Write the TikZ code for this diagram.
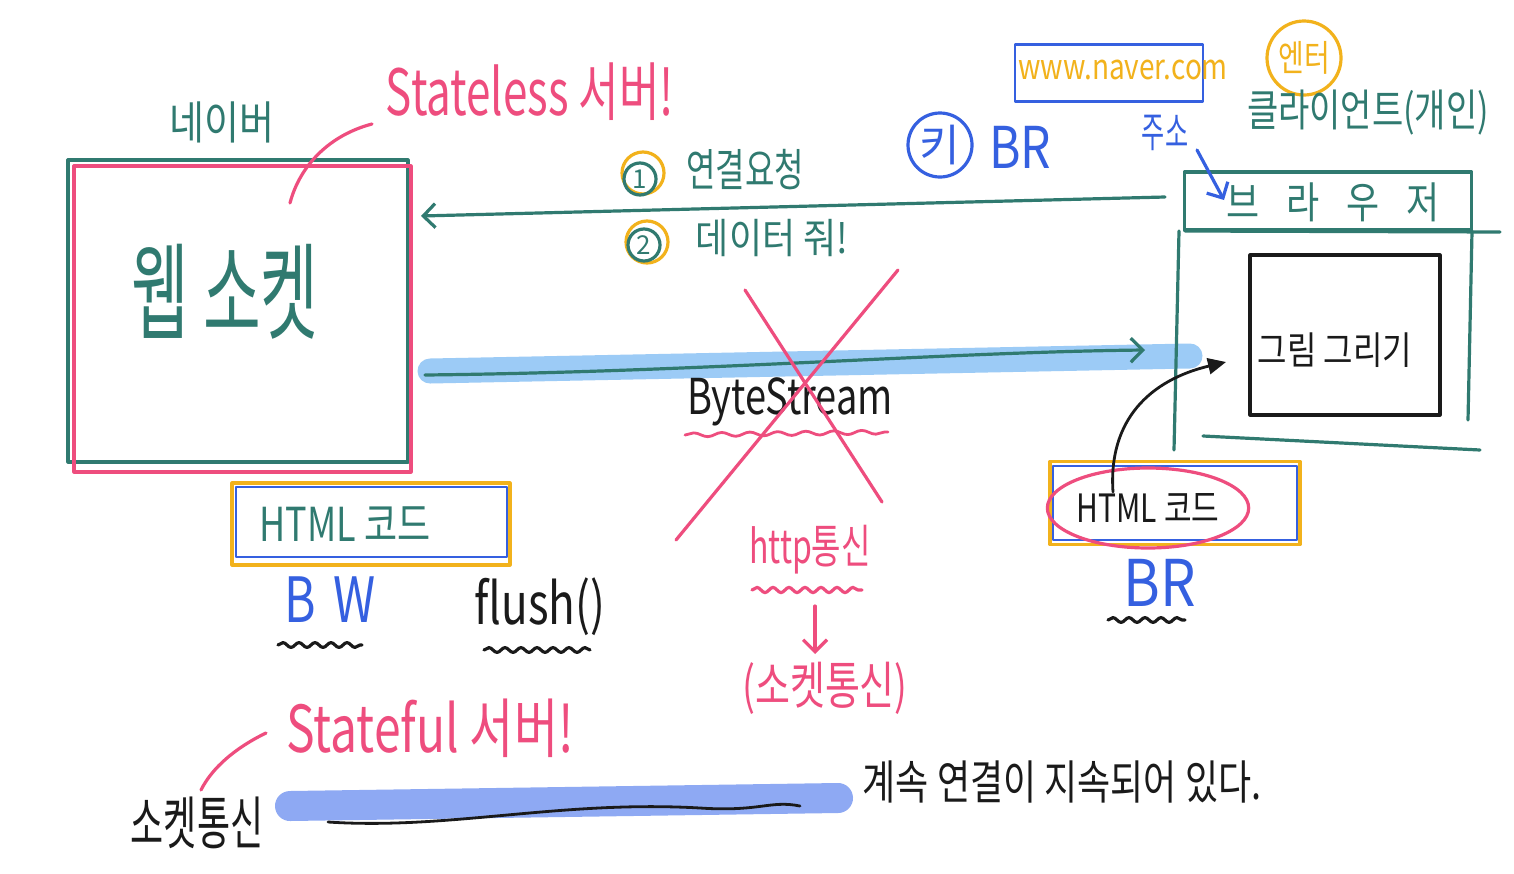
\documentclass[tikz,border=0pt]{standalone}
\usepackage{fontspec}
\newfontfamily\kr{Noto Sans CJK KR}
\usetikzlibrary{arrows.meta,decorations.pathmorphing,shapes.geometric}
\definecolor{tl}{HTML}{307A70}
\definecolor{pk}{HTML}{EE4D7E}
\definecolor{org}{HTML}{F2B21C}
\definecolor{bl}{HTML}{3560E0}
\definecolor{band}{HTML}{9CCBF6}
\definecolor{bandb}{HTML}{8EA9F3}
\definecolor{blk}{HTML}{1A1A1A}
\newcommand{\hwt}[3]{\scalebox{#1}[#2]{#3}}
\tikzset{
  every node/.style={inner sep=0pt, outer sep=0pt},
  fs/.style={font=\kr\fontsize{#1}{#1}\selectfont},
  stroke/.style={line width=1.6pt},
  wavy/.style={line width=1.6pt, decorate, decoration={snake, amplitude=#1, segment length=8pt}},
  barb/.style={-{Straight Barb[length=6pt,width=12pt,line width=1.6pt]}},
}
\begin{document}
\begin{tikzpicture}[x=0.5pt,y=-0.5pt,line cap=round,line join=round]
\fill[white] (0,0) rectangle (1514,873);
\useasboundingbox (0,0) rectangle (1514,873);

% highlight bands
\draw[band, line width=12.5pt] (430,371) -- (1190,356);
\draw[bandb, line width=15pt] (290,806) -- (838,798);

% ---------------- left server ----------------
\node[fs=19, text=tl] (naver) at (222,122) {\hwt{1}{1.2}{네이버}};
\node[draw=tl, stroke, minimum width=170pt, minimum height=151pt] (server) at (238,311) {};
\draw[pk, stroke] (74,166) rectangle (411,472);
\node[fs=33, text=tl] (websock) at (225,292) {\hwt{0.95}{1.6}{웹 소켓}};

\node[fs=22, text=pk] (stateless) at (530,92) {\hwt{1}{1.45}{Stateless 서버!}};
\coordinate (slstart) at (372,124);
\coordinate (slend) at (290,203);
\draw[pk, stroke] (slstart) .. controls (330,135) and (300,165) .. (slend);

% left html code
\node[draw=org, stroke, minimum width=139pt, minimum height=41pt] (lhtmlbox) at (371,524) {};
\draw[bl, line width=1.2pt] (236,487) rectangle (507,557);
\node[fs=18, text=tl] (lhtml) at (345,524) {\hwt{1}{1.3}{HTML 코드}};

\node[fs=24, text=bl] (bw) at (330,600) {\hwt{1}{1.3}{B\hspace{0.35em}W}};
\draw[blk, wavy=1.2pt] (278,645) -- (362,645);
\node[fs=22, text=blk] (flush) at (540,607) {\hwt{1}{1.3}{flush()}};
\draw[blk, wavy=1.2pt] (484,650) -- (590,650);

% ---------------- request / response ----------------
\coordinate (reqfrom) at (1165,197);
\coordinate (reqto) at (421,216);
\draw[tl, stroke, barb] (reqfrom) -- (reqto);
\node[circle, draw=org, stroke, minimum size=21pt] (c1o) at (643,173) {};
\node[circle, draw=tl, stroke, minimum size=16pt, fs=13, text=tl] (c1) at (640,179) {1};
\node[fs=16, text=tl] (conn) at (745,170) {\hwt{1}{1.4}{연결요청}};
\node[circle, draw=org, stroke, minimum size=21pt] (c2o) at (647,242) {};
\node[circle, draw=tl, stroke, minimum size=16pt, fs=13, text=tl] (c2) at (644,245) {2};
\node[fs=18, text=tl] (data) at (772,238) {\hwt{1}{1.15}{데이터 줘!}};

% byte stream
\coordinate (bsfrom) at (425,375);
\coordinate (bsto) at (1145,350);
\draw[tl, stroke, barb] (bsfrom) .. controls (700,372) and (950,352) .. (bsto);
\node[fs=19, text=blk] (bytes) at (790,402) {\hwt{1}{1.3}{ByteStream}};
\draw[pk, line width=1.4pt, decorate, decoration={snake, amplitude=1pt, segment length=14pt}] (685,435) -- (888,432);
\draw[pk, stroke] (745,290) -- (882,502);
\draw[pk, stroke] (898,270) -- (676,540);

\node[fs=16, text=pk] (http) at (810,550) {\hwt{1}{1.45}{http통신}};
\draw[pk, wavy=1.3pt] (752,590) -- (862,590);
\node[fs=19, text=pk] (sockc) at (825,688) {\hwt{1}{1.35}{(소켓통신)}};
\coordinate (downfrom) at (815,606);
\coordinate (downto) at (815,654);
\draw[pk, stroke, barb] (downfrom) -- (downto);

% ---------------- browser ----------------
\node[draw=bl, line width=1.4pt, minimum width=94pt, minimum height=28.5pt] (urlbox) at (1109,73) {};
\node[fs=14, text=org] (url) at (1123,70) {\hwt{1}{1.25}{www.naver.com}};
\node[circle, draw=org, stroke, minimum size=37pt, fs=14, text=org] (enter) at (1304,58) {\hwt{1}{1.3}{엔터}};
\node[fs=17, text=tl] (client) at (1368,113) {\hwt{1}{1.3}{클라이언트(개인)}};
\node[circle, draw=bl, stroke, minimum size=32pt, fs=22, text=bl] (ki) at (940,145) {키};
\node[fs=24, text=bl] (br1) at (1020,147) {\hwt{1}{1.2}{BR}};
\node[fs=14, text=bl] (addr) at (1165,133) {\hwt{0.9}{1.5}{주소}};

\node[draw=tl, stroke, minimum width=143.5pt, minimum height=29pt] (bhead) at (1328,201) {};
\node[fs=18, text=tl] (brtitle) at (1333,202) {\hwt{1}{1.2}{브\hspace{0.75em}라\hspace{0.75em}우\hspace{0.75em}저}};
\coordinate (addrfrom) at (1197,150);
\coordinate (addrto) at (1224,200);
\draw[bl, stroke, barb] (addrfrom) -- (addrto);
\draw[tl, stroke] (1185,231) -- (1500,232);
\draw[tl, stroke] (1179,231) -- (1174,450);
\draw[tl, stroke] (1472,231) -- (1468,420);
\draw[tl, stroke] (1203,436) -- (1480,450);

\node[draw=blk, stroke, minimum width=95pt, minimum height=80pt] (paint) at (1345,335) {};
\node[fs=16, text=blk] (painttxt) at (1335,350) {\hwt{1}{1.2}{그림 그리기}};

% right html code
\node[draw=org, stroke, minimum width=125pt, minimum height=41.5pt] (rhtmlbox) at (1175,503) {};
\draw[bl, line width=1.2pt] (1053,466) rectangle (1297,540);
\node[ellipse, draw=pk, stroke, minimum width=93pt, minimum height=40pt, fs=15, text=blk] (rhtml) at (1148,508) {\hwt{1}{1.3}{HTML 코드}};
\coordinate (arrstart) at (1113,492);
\coordinate (arrend) at (1226,362);
\draw[blk, line width=1.4pt, -{Triangle[length=9pt,width=8pt]}] (arrstart) .. controls (1108,420) and (1150,380) .. (arrend);

\node[fs=28, text=bl] (br2) at (1160,583) {\hwt{1}{1.15}{BR}};
\draw[blk, wavy=1.2pt] (1108,620) -- (1185,620);

% ---------------- stateful ----------------
\node[fs=24, text=pk] (stateful) at (430,728) {\hwt{1}{1.35}{Stateful 서버!}};
\node[fs=18, text=blk] (socket) at (197,823) {\hwt{1}{1.6}{소켓통신}};
\coordinate (sfstart) at (266,733);
\coordinate (sfend) at (201,790);
\draw[pk, stroke] (sfstart) .. controls (235,748) and (212,768) .. (sfend);
\draw[blk, line width=1.4pt] (328,822) .. controls (450,830) and (560,800) .. (700,808) .. controls (760,812) and (770,800) .. (800,806);
\node[fs=18, text=blk] (always) at (1062,782) {\hwt{1}{1.3}{계속 연결이 지속되어 있다.}};
\end{tikzpicture}
\end{document}
